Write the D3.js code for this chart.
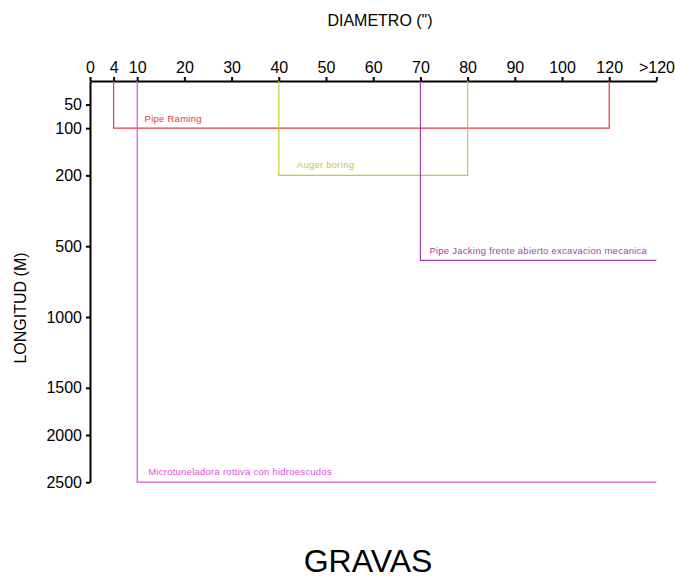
<!DOCTYPE html>
<html>
<head>
<meta charset="utf-8">
<script src="https://cdn.jsdelivr.net/npm/d3@7"></script>
<style>
  html, body { margin: 0; padding: 0; background: #fff; }
  svg { display: block; font-family: "Liberation Sans", Arial, sans-serif; }
</style>
</head>
<body>
<svg id="chart" width="675" height="578"></svg>
<script>
// ---- data ----
const xTickValues = [0, 4, 10, 20, 30, 40, 50, 60, 70, 80, 90, 100, 120, 140]; // 140 stands for ">120"
const xTickLabels = ["0", "4", "10", "20", "30", "40", "50", "60", "70", "80", "90", "100", "120", ">120"];
const yTickValues = [50, 100, 200, 500, 1000, 1500, 2000, 2500];
const yTickLabels = ["50", "100", "200", "500", "1000", "1500", "2000", "2500"];

const methods = [
  "Pipe Raming",
  "Auger boring",
  "Pipe Jacking frente abierto excavacion mecanica",
  "Microtuneladora rottiva con hidroescudos"
];
const diamMin = [4, 40, 70, 10];
const diamMax = [120, 80, 140, 140];   // 140 = ">120"
const lengthMax = [100, 200, 600, 2500];

const xTitle = 'DIAMETRO (")';
const yTitle = "LONGITUD (M)";
const chartTitle = "GRAVAS";

// ---- layout / style ----
const colors = ["#e8383c", "#c9c93e", "#a043ad", "#e04ee6"];
const labelDx = [31, 18, 9, 11];
const labelDy = [-6, -7, -6, -7];

const x0 = 90, y0 = 81, unit = 47.2;
const xUnits = [0, 0.5, 1, 2, 3, 4, 5, 6, 7, 8, 9, 10, 11, 12];
const yDomain = [0].concat(yTickValues);
const yUnits = [0, 0.5, 1, 2, 3.5, 5, 6.5, 7.5, 8.5];

const x = d3.scaleLinear().domain(xTickValues).range(xUnits.map(u => x0 + u * unit));
const y = d3.scaleLinear().domain(yDomain).range(yUnits.map(u => y0 + u * unit));

const svg = d3.select("#chart");

// x axis (top)
const xAxis = d3.axisTop(x)
  .tickValues(xTickValues)
  .tickFormat((d, i) => xTickLabels[i])
  .tickSize(4).tickSizeOuter(0).tickPadding(4);
const gx = svg.append("g").attr("transform", `translate(0,${y0})`).call(xAxis);

// y axis (left)
const yAxis = d3.axisLeft(y)
  .tickValues(yTickValues)
  .tickFormat((d, i) => yTickLabels[i])
  .tickSize(4).tickSizeOuter(0).tickPadding(4);
const gy = svg.append("g").attr("transform", `translate(${x0},0)`).call(yAxis);

[gx, gy].forEach(g => {
  g.select(".domain").attr("stroke", "#000").attr("stroke-width", 2);
  g.selectAll(".tick line").attr("stroke", "#000").attr("stroke-width", 2);
  g.selectAll(".tick text").attr("fill", "#000").style("font-size", "16px")
    .style("font-family", '"Liberation Sans", Arial, sans-serif');
});

// method ranges
const idx = d3.range(methods.length);
svg.append("g").selectAll("path")
  .data(idx)
  .join("path")
  .attr("fill", "none")
  .attr("stroke", i => colors[i])
  .attr("stroke-width", 1.2)
  .attr("d", i => {
    const p = d3.path();
    p.moveTo(x(diamMin[i]), y(0));
    p.lineTo(x(diamMin[i]), y(lengthMax[i]));
    p.lineTo(x(diamMax[i]), y(lengthMax[i]));
    if (diamMax[i] < 140) p.lineTo(x(diamMax[i]), y(0));
    return p.toString();
  });

svg.append("g").selectAll("text")
  .data(idx)
  .join("text")
  .attr("x", i => x(diamMin[i]) + labelDx[i])
  .attr("y", i => y(lengthMax[i]) + labelDy[i])
  .attr("fill", i => colors[i])
  .style("font-size", "9.5px")
  .style("letter-spacing", "0.25px")
  .text(i => methods[i]);

// titles
svg.append("text")
  .attr("x", 380).attr("y", 26)
  .attr("text-anchor", "middle")
  .style("font-size", "16px")
  .text(xTitle);

svg.append("text")
  .attr("transform", "translate(26,308) rotate(-90)")
  .attr("text-anchor", "middle")
  .style("font-size", "16px")
  .text(yTitle);

svg.append("text")
  .attr("x", 368).attr("y", 572)
  .attr("text-anchor", "middle")
  .style("font-size", "32px")
  .text(chartTitle);
</script>
</body>
</html>
